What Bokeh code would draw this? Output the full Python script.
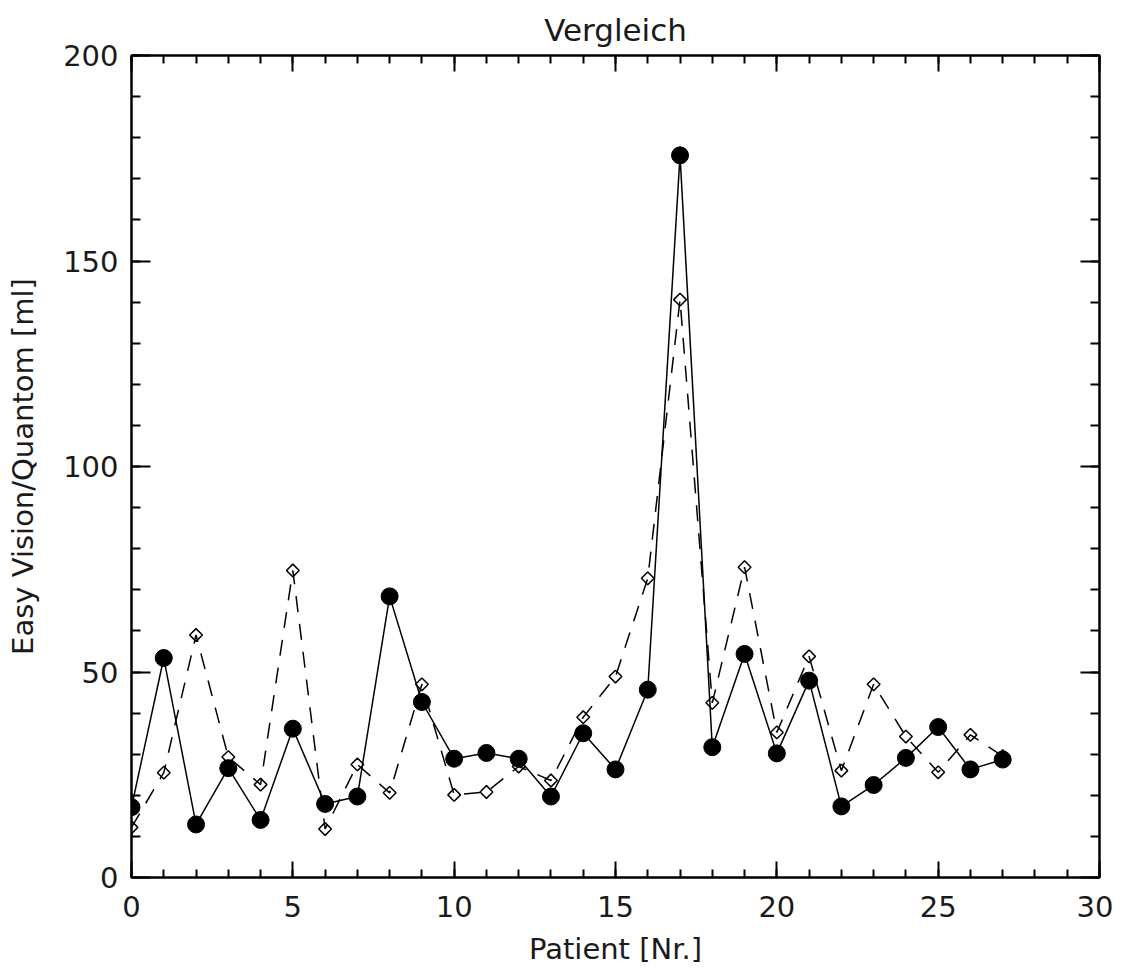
import numpy as np
from bokeh.plotting import figure
from bokeh.models import LinearAxis, SingleIntervalTicker, Range1d
from bokeh.embed import file_html
from bokeh.resources import INLINE

patients = list(range(28))
easy_vision = [17.1, 53.4, 12.9, 26.6, 14.0, 36.2, 17.9, 19.7, 68.4, 42.7,
               28.9, 30.3, 28.9, 19.7, 35.1, 26.3, 45.7, 175.7, 31.7, 54.4,
               30.2, 47.9, 17.3, 22.5, 29.1, 36.6, 26.3, 28.7]
quantom = [12.2, 25.5, 59.0, 29.3, 22.6, 74.7, 11.8, 27.5, 20.6, 47.0,
           20.1, 20.8, 27.0, 23.6, 39.0, 48.9, 72.8, 140.6, 42.5, 75.5,
           35.3, 53.8, 26.0, 47.0, 34.3, 25.6, 34.7, 29.5]

title_text = "Vergleich"
x_label = "Patient [Nr.]"
y_label = "Easy Vision/Quantom [ml]"

FONT = "DejaVu Sans"
TXT = "#1a1a1a"

p = figure(width=1113, height=962, frame_width=968, frame_height=822,
           x_range=Range1d(0, 30), y_range=Range1d(0, 200),
           output_backend="svg", toolbar_location=None,
           min_border_left=131, min_border_right=14,
           min_border_top=55, min_border_bottom=85,
           title=title_text)

p.title.align = "center"
p.title.text_font = FONT
p.title.text_font_size = "31px"
p.title.text_font_style = "normal"
p.title.text_color = TXT
p.title.standoff = 16

p.xgrid.visible = False
p.ygrid.visible = False
p.outline_line_color = "black"
p.outline_line_width = 2

def style_axis(ax, interval, tick_in, labels=True):
    ax.ticker = SingleIntervalTicker(interval=interval, num_minor_ticks=5)
    ax.major_tick_in = tick_in
    ax.major_tick_out = 0
    ax.minor_tick_in = tick_in // 2
    ax.minor_tick_out = 0
    ax.axis_line_color = "black"
    ax.axis_line_width = 2
    ax.major_tick_line_color = "black"
    ax.major_tick_line_width = 2
    ax.minor_tick_line_color = "black"
    ax.minor_tick_line_width = 2
    ax.major_label_text_font = FONT
    ax.major_label_text_font_size = "29px"
    ax.major_label_text_color = TXT
    ax.axis_label_text_font = FONT
    ax.axis_label_text_font_size = "29px"
    ax.axis_label_text_font_style = "normal"
    ax.axis_label_text_color = TXT
    if not labels:
        ax.major_label_text_font_size = "0px"
        ax.major_label_text_color = None
        ax.major_label_standoff = 0

xb = p.xaxis[0]
style_axis(xb, 5, 16)
xb.major_label_standoff = 18
xb.axis_label = x_label
xb.axis_label_standoff = 12

yl = p.yaxis[0]
style_axis(yl, 50, 19)
yl.major_label_standoff = 13
yl.axis_label = y_label
yl.axis_label_standoff = 20

top = LinearAxis()
style_axis(top, 5, 16, labels=False)
p.add_layout(top, "above")
right = LinearAxis()
style_axis(right, 50, 19, labels=False)
p.add_layout(right, "right")

# dashed series with open diamonds
p.line(patients, quantom, line_color="black", line_width=1.5, line_dash="16 12")
p.scatter(patients, quantom, marker="square", angle=np.pi / 4, size=9,
          fill_color="white", fill_alpha=0.0, line_color="black", line_width=1.5)

# solid series with filled circles
p.line(patients, easy_vision, line_color="black", line_width=1.5)
p.scatter(patients, easy_vision, marker="circle", size=17,
          fill_color="black", line_color="black")

open("out.html", "w").write(file_html(p, INLINE))
